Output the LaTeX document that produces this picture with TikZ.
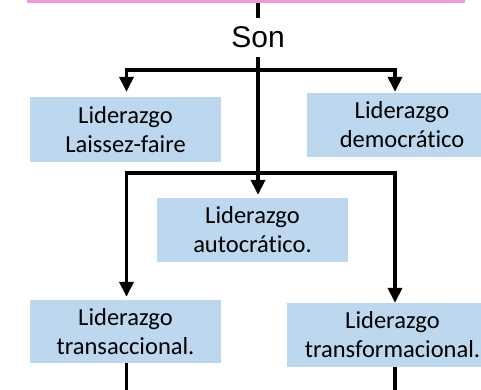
\documentclass[tikz,border=0pt]{standalone}
\usepackage{fontspec}
\setmainfont{Carlito}[Ligatures={NoCommon,NoContextual}]
\newfontfamily\sonfont{Liberation Sans}
\usetikzlibrary{arrows.meta,calc}
\definecolor{boxblue}{HTML}{BDD7EE}
\definecolor{topink}{HTML}{EE9AD8}
\begin{document}
\begin{tikzpicture}[x=1pt,y=-1pt,
  box/.style={fill=boxblue, inner sep=0pt, align=center, font=\fontsize{24.5}{29}\selectfont},
  conn/.style={line width=3.6pt},
  arr/.style={conn, -{Triangle[width=14pt,length=15pt]}}]
\useasboundingbox (0,0) rectangle (481,389);
\clip (0,0) rectangle (481,389);
\node[anchor=north west, fill=topink, minimum width=438pt, minimum height=2.5pt, inner sep=0pt] (top) at (27,0) {};
\node[font=\sonfont\fontsize{30}{36}\selectfont, inner xsep=2pt, inner ysep=8.5pt] (son) at (258,37.5) {Son};
\node[box, minimum width=191pt, minimum height=65pt] (lf) at (125.5,129.5) {Liderazgo\\Laissez-faire};
\node[box, minimum width=190pt, minimum height=64pt] (dem) at (402,125) {Liderazgo\\democrático};
\node[box, minimum width=191pt, minimum height=64pt] (aut) at (252.5,230) {Liderazgo\\autocrático.};
\node[box, minimum width=191pt, minimum height=63pt] (tra) at (125.5,331.5) {Liderazgo\\transaccional.};
\node[box, minimum width=211pt, minimum height=64pt] (trf) at (392.5,335) {Liderazgo\\transformacional.};
\coordinate (j1) at (258,70);
\coordinate (j2) at (258,173);
\coordinate (rx) at (395,0);
\coordinate (lx) at (126.5,0);
\coordinate (bot) at (0,395);
\draw[conn] (top.south -| son) -- (son.north);
\draw[arr, shorten >=3pt] (son.south) -- (aut.north -| son);
\draw[arr, shorten >=5pt] (j1) -| (lf.north -| lx);
\draw[arr, shorten >=1pt] (j1) -| (dem.north -| rx);
\draw[arr, shorten >=3pt] (j2) -| (tra.north -| lx);
\draw[arr] (j2) -| (trf.north -| rx);
\draw[conn] (tra.south -| lx) -- (bot -| lx);
\draw[conn] (trf.south -| rx) -- (bot -| rx);
\end{tikzpicture}
\end{document}
